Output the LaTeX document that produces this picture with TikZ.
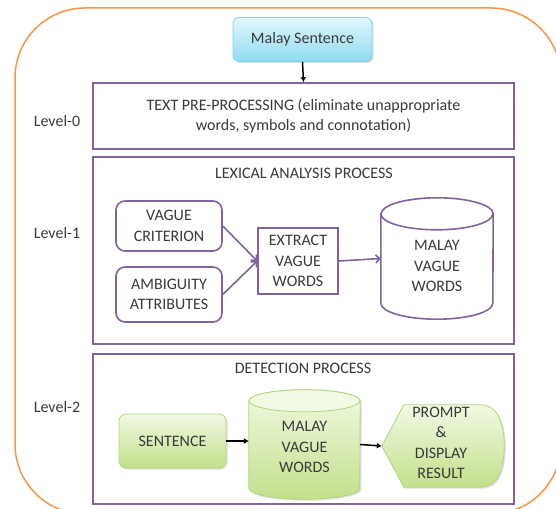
\documentclass[tikz,border=0pt]{standalone}
\usepackage{fontspec}
\setmainfont{Carlito}
\usetikzlibrary{calc,arrows.meta,shadows}
\definecolor{purp}{HTML}{8064A2}
\definecolor{orng}{HTML}{F79646}
\definecolor{txt}{HTML}{3A3A3A}
\definecolor{cyantop}{HTML}{E2F7FD}
\definecolor{cyanbot}{HTML}{8FDBF1}
\definecolor{cyanbd}{HTML}{86CFE4}
\definecolor{grtop}{HTML}{F2F9E4}
\definecolor{grbot}{HTML}{C2E08A}
\definecolor{grbd}{HTML}{B3D67A}
\begin{document}
\begin{tikzpicture}[x=1pt,y=-1pt,
  every node/.style={font=\fontsize{16}{20.5}\selectfont, text=txt, inner sep=0pt, align=center},
  lvlbox/.style={draw=purp, line width=1.6pt, fill=white},
  purpbox/.style={draw=purp, line width=1.6pt, fill=white},
  ghost/.style={draw=none},
  cyanbox/.style={draw=cyanbd, line width=0.8pt, rounded corners=6pt, top color=cyantop, bottom color=cyanbot,
     drop shadow={opacity=0.25, shadow xshift=1.5pt, shadow yshift=-1.5pt}},
  greenbox/.style={draw=grbd, line width=0.8pt, rounded corners=7pt, top color=grtop, bottom color=grbot,
     drop shadow={opacity=0.25, shadow xshift=1.5pt, shadow yshift=-1.5pt}},
  greenshape/.style={draw=grbd, line width=0.8pt, top color=grtop, bottom color=grbot},
  purparrow/.style={draw=purp, line width=1.6pt, -{Straight Barb[length=4pt,width=8pt]}},
  blkarrow/.style={draw=black, line width=1.5pt, -{Latex[length=5pt,width=6pt]}},
  lvllabel/.style={font=\fontsize{16}{20}\selectfont},
]
\useasboundingbox (0,0) rectangle (556,508);
% outer orange frame
\draw[orng, line width=1.5pt, rounded corners=70pt] (15,8) rectangle (561,514);

% top node
\node[cyanbox, minimum width=139pt, minimum height=44pt] (ms) at (302.5,39.5) {Malay Sentence};

% level boxes
\node[lvlbox, minimum width=421pt, minimum height=66pt] (l0) at (303.5,116)
  {TEXT PRE-PROCESSING (eliminate unappropriate\\words, symbols and connotation)};
\node[lvlbox, minimum width=421pt, minimum height=187pt] (l1) at (303.5,250.5) {};
\node[lvlbox, minimum width=421pt, minimum height=150pt] (l2) at (303.5,429) {};

\draw[blkarrow] (ms.south) -- (l0.north);

% level labels
\node[lvllabel] (lab0) at (57,121) {Level-0};
\node[lvllabel] (lab1) at (57,233) {Level-1};
\node[lvllabel] (lab2) at (57,407) {Level-2};

% level 1 content
\node (lextitle) at (304,173) {LEXICAL ANALYSIS PROCESS};
\node[purpbox, rounded corners=9pt, minimum width=106pt, minimum height=50pt] (vc) at (169,226) {VAGUE\\CRITERION};
\node[purpbox, rounded corners=9pt, minimum width=106pt, minimum height=55pt] (aa) at (169,294.5) {AMBIGUITY\\ATTRIBUTES};
\node[purpbox, minimum width=80pt, minimum height=66pt] (ex) at (298,261) {EXTRACT\\VAGUE\\WORDS};

% cylinder 1
\node[ghost, minimum width=112pt, minimum height=121pt] (cy1) at (437,258.5) {};
\path[draw=purp, line width=1.6pt, fill=white]
  ($(cy1.north west)+(0,16)$) -- ($(cy1.south west)+(0,-16)$)
  arc[start angle=180, end angle=360, x radius=56pt, y radius=16pt]
  -- ($(cy1.north east)+(0,16)$)
  arc[start angle=0, end angle=180, x radius=56pt, y radius=16pt] -- cycle;
\draw[purp, line width=1.6pt] ($(cy1.north west)+(0,16)$)
  arc[start angle=180, end angle=360, x radius=56pt, y radius=16pt];
\node (cy1t) at (437,266) {MALAY\\VAGUE\\WORDS};

\draw[purparrow] (vc.east) -- (ex.west);
\draw[purparrow] (aa.east) -- (ex.west);
\draw[purparrow] (ex.east) -- (cy1.west);

% level 2 content
\node (dettitle) at (303,368) {DETECTION PROCESS};
\node[greenbox, minimum width=107pt, minimum height=54pt] (sen) at (172.5,441) {SENTENCE};

% cylinder 2
\node[ghost, minimum width=111pt, minimum height=109pt] (cy2) at (304.5,444.5) {};
\path[greenshape, drop shadow={opacity=0.25, shadow xshift=1.5pt, shadow yshift=-1.5pt}]
  ($(cy2.north west)+(0,11)$) -- ($(cy2.south west)+(0,-11)$)
  arc[start angle=180, end angle=360, x radius=55.5pt, y radius=11pt]
  -- ($(cy2.north east)+(0,11)$)
  arc[start angle=0, end angle=180, x radius=55.5pt, y radius=11pt] -- cycle;
\draw[grbd, line width=0.8pt, fill=grtop] ($(cy2.north)+(0,11)$) ellipse [x radius=55.5pt, y radius=11pt];
\node (cy2t) at (304.5,447) {MALAY\\VAGUE\\WORDS};

% display shape
\node[ghost, minimum width=122pt, minimum height=82pt] (disp) at (443,446) {};
\path[greenshape, drop shadow={opacity=0.25, shadow xshift=1.5pt, shadow yshift=-1.5pt}]
  (disp.west) -- ($(disp.north west)+(22,0)$) -- ($(disp.north east)+(-24,0)$)
  .. controls ($(disp.north east)+(-6,0)$) and ($(disp.east)+(0,-22)$) .. (disp.east)
  .. controls ($(disp.east)+(0,22)$) and ($(disp.south east)+(-6,0)$) .. ($(disp.south east)+(-24,0)$)
  -- ($(disp.south west)+(22,0)$) -- cycle;
\node (dispt) at (441,443) {PROMPT\\\&\\DISPLAY\\RESULT};

\draw[blkarrow] (sen.east) -- (sen.east -| cy2.west);
\draw[blkarrow] (cy2.east) -- (disp.west);
\end{tikzpicture}
\end{document}
